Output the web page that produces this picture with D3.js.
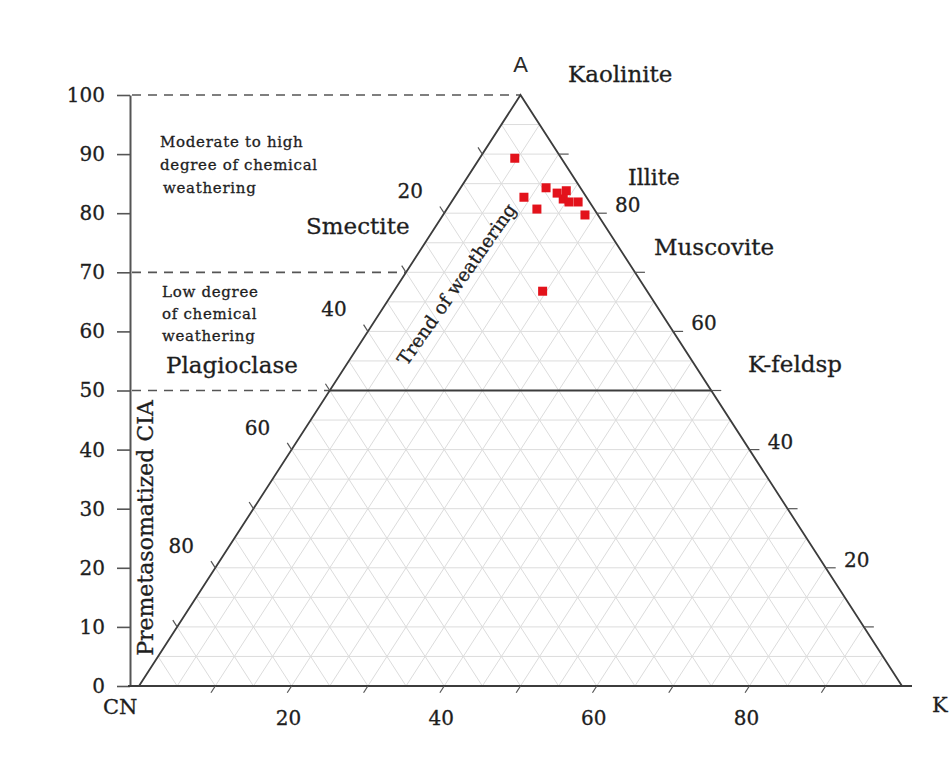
<!DOCTYPE html>
<html>
<head>
<meta charset="utf-8">
<script src="https://cdn.jsdelivr.net/npm/d3@7"></script>
<style>
  html, body { margin: 0; padding: 0; background: #fff; }
  svg { display: block; }
  .serif { font-family: "DejaVu Serif", "Liberation Serif", serif; fill: #1e1e1e; stroke: #1e1e1e; stroke-width: 0.3px; }
</style>
</head>
<body>
<svg id="chart" width="951" height="760"></svg>
<script>
// Sample compositions (molar %), A = Al2O3, CN = CaO* + Na2O, K = K2O
const sampleA  = [83.8, 82.4, 89.3, 82.7, 80.7, 84.3, 83.4, 81.9, 81.9, 79.7, 66.8];
const sampleCN = [ 2.1,  3.2,  6.1,  8.2,  7.5,  4.5,  3.5,  2.7,  1.5,  1.7, 13.7];
const sampleK  = [14.1, 14.4,  4.6,  9.1, 11.8, 11.2, 13.1, 15.4, 16.6, 18.6, 19.5];

// Axis ticks
const ciaTicks   = [0, 10, 20, 30, 40, 50, 60, 70, 80, 90, 100];
const kLabels    = [20, 40, 60, 80];
const cnLabels   = [20, 40, 60, 80];
const aLabels    = [20, 40, 60, 80];
const edgeTicks  = [10, 20, 30, 40, 50, 60, 70, 80, 90];
const gridSteps  = d3.range(5, 100, 5);

// Weathering zones on the CIA scale
const zoneLines  = [100, 70, 50];

const svg = d3.select("#chart");

// Vertical scale (A / CIA) and horizontal scale along the CN–K base
const y = d3.scaleLinear().domain([0, 100]).range([686, 95]);
const x = d3.scaleLinear().domain([0, 100]).range([139, 902]);

// Ternary projection: returns [px, py] for (A, CN, K)
function proj(a, cn, k) {
  return [x(k + a / 2), y(a)];
}

const line = d3.line();

// ---- grid ----
const grid = svg.append("g").attr("stroke", "#dcdcdc").attr("stroke-width", 1).attr("fill", "none");
gridSteps.forEach(v => {
  // constant A
  grid.append("path").attr("d", line([proj(v, 100 - v, 0), proj(v, 0, 100 - v)]));
  // constant K
  grid.append("path").attr("d", line([proj(0, 100 - v, v), proj(100 - v, 0, v)]));
  // constant CN
  grid.append("path").attr("d", line([proj(0, v, 100 - v), proj(100 - v, v, 0)]));
});

// ---- CIA axis on the left ----
const axisX = 130;
const yAxis = d3.axisLeft(y).tickValues(ciaTicks).tickSize(13).tickSizeOuter(0).tickPadding(12);
const gAxis = svg.append("g").attr("transform", `translate(${axisX},0)`).call(yAxis);
gAxis.select(".domain").attr("stroke", "#555").attr("stroke-width", 2);
gAxis.selectAll(".tick line").attr("stroke", "#555").attr("stroke-width", 1.6);
gAxis.selectAll(".tick text")
  .attr("class", "serif")
  .style("font-size", "20px");

// ---- dashed zone boundaries ----
svg.append("g").selectAll("path").data(zoneLines).join("path")
  .attr("d", v => line([[axisX + 2, y(v)], proj(v, 100 - v, 0)]))
  .attr("stroke", "#555").attr("stroke-width", 1.7)
  .attr("stroke-dasharray", "9,7").attr("fill", "none");

// ---- triangle outline ----
const CN = proj(0, 100, 0), K = proj(0, 0, 100), A = proj(100, 0, 0);
const frame = svg.append("g").attr("stroke", "#3c3c3c").attr("stroke-width", 1.8).attr("fill", "none");
frame.append("path").attr("d", line([CN, A, K]));
frame.append("path").attr("d", line([[axisX - 2, y(0)], [K[0] + 10, y(0)]]));
frame.append("path").attr("d", line([proj(50, 50, 0), proj(50, 0, 50)]));

// ---- edge ticks ----
const ticks = svg.append("g").attr("stroke", "#555").attr("stroke-width", 1.2);
// unit vectors: down-left along the left edge, up-left along the right edge
const dLeft = [CN[0] - A[0], CN[1] - A[1]];
const lenL = Math.hypot(dLeft[0], dLeft[1]);
const uDown = [dLeft[0] / lenL, dLeft[1] / lenL];
const uUp = [uDown[0], -uDown[1]];
edgeTicks.forEach(v => {
  // base (K)
  const b = proj(0, 100 - v, v);
  ticks.append("line").attr("x1", b[0]).attr("y1", b[1])
    .attr("x2", b[0] + uDown[0] * 8).attr("y2", b[1] + uDown[1] * 8);
  // left edge (CN)
  const l = proj(100 - v, v, 0);
  ticks.append("line").attr("x1", l[0]).attr("y1", l[1])
    .attr("x2", l[0] + uUp[0] * 8).attr("y2", l[1] + uUp[1] * 8);
  // right edge (A)
  const r = proj(v, 0, 100 - v);
  ticks.append("line").attr("x1", r[0]).attr("y1", r[1])
    .attr("x2", r[0] + 10).attr("y2", r[1]);
});

// ---- edge labels ----
const labels = svg.append("g").style("font-size", "20px").attr("text-anchor", "middle");
kLabels.forEach(v => {
  const p = proj(0, 100 - v, v);
  labels.append("text").attr("class", "serif").attr("x", p[0] - 3).attr("y", p[1] + 39).text(v);
});
cnLabels.forEach(v => {
  const p = proj(100 - v, v, 0);
  labels.append("text").attr("class", "serif").attr("x", p[0] - 34).attr("y", p[1] - 15).text(v);
});
aLabels.forEach(v => {
  const p = proj(v, 0, 100 - v);
  labels.append("text").attr("class", "serif").attr("x", p[0] + 31).attr("y", p[1] - 1).text(v);
});

// ---- samples ----
const ms = 9;
svg.append("g").selectAll("rect").data(sampleA.map((a, i) => proj(a, sampleCN[i], sampleK[i])))
  .join("rect")
  .attr("x", d => d[0] - ms / 2).attr("y", d => d[1] - ms / 2)
  .attr("width", ms).attr("height", ms)
  .attr("fill", "#e3121b");

// ---- annotations ----
const txt = (str, px, py, size, extra) => {
  const t = svg.append("text").attr("class", "serif").attr("x", px).attr("y", py)
    .style("font-size", size + "px").text(str);
  if (extra) extra(t);
  return t;
};

svg.append("text").attr("x", A[0]).attr("y", 72).attr("text-anchor", "middle")
  .style("font-family", "'Liberation Sans', Arial, sans-serif").style("font-size", "22px")
  .attr("fill", "#2a2a2a").text("A");
txt("CN", 103, 714, 21);
txt("K", 932, 712, 21);

txt("Kaolinite", 568, 82, 23);
txt("Illite", 628, 185, 22);
txt("Muscovite", 654, 255, 23);
txt("K-feldsp", 748, 372, 23);
txt("Smectite", 306, 234, 23);
txt("Plagioclase", 166, 373, 23);

const small = (str, px, py) => txt(str, px, py, 15, t => t.style("letter-spacing", "0.7px"));
small("Moderate to high", 160, 147);
small("degree of chemical", 160, 170);
small("weathering", 163, 193);
small("Low degree", 162, 297);
small("of chemical", 162, 319);
small("weathering", 162, 341);

svg.append("text").attr("class", "serif")
  .attr("transform", "translate(153,528) rotate(-90)")
  .attr("text-anchor", "middle").style("font-size", "22px")
  .text("Premetasomatized CIA");

svg.append("text").attr("class", "serif")
  .attr("transform", "translate(462,288) rotate(-55)")
  .attr("text-anchor", "middle").style("font-size", "18.5px")
  .text("Trend of weathering");
</script>
</body>
</html>
